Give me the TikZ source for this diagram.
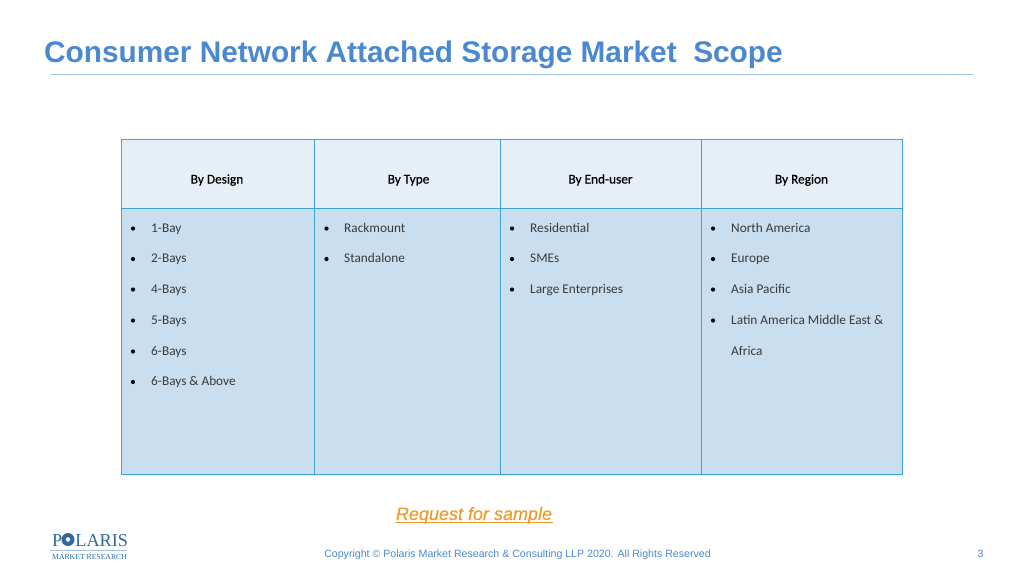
\documentclass[tikz,border=0pt]{standalone}
\usepackage{fontspec}
\setmainfont{Liberation Sans}
\newfontfamily\cellfont{Carlito}
\newfontfamily\headfont[FakeBold=0.5]{Carlito}
\newfontfamily\linkfont[ItalicFeatures={FakeBold=0.3}]{Liberation Sans}
\newfontfamily\logofont{Liberation Serif}
\usetikzlibrary{positioning}
\definecolor{titleblue}{HTML}{4A89CF}
\definecolor{rulecol}{HTML}{9CC3E2}
\definecolor{gridblue}{HTML}{3DA3D0}
\definecolor{headfill}{HTML}{E6EEF8}
\definecolor{bodyfill}{HTML}{C9DEEF}
\definecolor{linkorange}{HTML}{EE9A2C}
\definecolor{logoblue}{HTML}{2F6A9E}
\definecolor{txtgray}{HTML}{3A3A3A}
\tikzset{
  headcell/.style={draw=gridblue,fill=headfill,line width=1.3pt,anchor=north west,inner sep=0pt},
  bodycell/.style={draw=gridblue,fill=bodyfill,line width=1.3pt,anchor=north west,inner sep=0pt},
  headtext/.style={font=\headfont\fontsize{13.3}{15}\selectfont,text=black,anchor=base,inner sep=0pt},
  item/.style={font=\cellfont\fontsize{13.3}{15}\selectfont,text=txtgray,anchor=base west,inner sep=0pt},
  dot/.style={circle,fill=black,inner sep=0pt,minimum size=4.2pt}
}
\begin{document}
\begin{tikzpicture}[x=1pt,y=-1pt]
  \useasboundingbox (0,0) rectangle (1024,576);
  \node[anchor=base west,inner sep=0pt,text=titleblue,font=\bfseries\fontsize{29.8}{32}\selectfont] (title) at (44,62.5) {Consumer Network Attached Storage Market\ \ Scope};
  \coordinate (ruleL) at (51,74.5);
  \coordinate (ruleR) at (973,74.5);
  \draw[rulecol,line width=0.7pt] (ruleL)--(ruleR);
  % table cells
  \node[headcell,minimum width=193pt,minimum height=69pt] (h1) at (120.5,138.5) {};
  \node[headcell,minimum width=186pt,minimum height=69pt] (h2) at (313.5,138.5) {};
  \node[headcell,minimum width=201pt,minimum height=69pt] (h3) at (499.5,138.5) {};
  \node[headcell,minimum width=201pt,minimum height=69pt] (h4) at (700.5,138.5) {};
  \node[bodycell,minimum width=193pt,minimum height=266pt] (b1) at (120.5,207.5) {};
  \node[bodycell,minimum width=186pt,minimum height=266pt] (b2) at (313.5,207.5) {};
  \node[bodycell,minimum width=201pt,minimum height=266pt] (b3) at (499.5,207.5) {};
  \node[bodycell,minimum width=201pt,minimum height=266pt] (b4) at (700.5,207.5) {};
  \node[headtext] at (217,183.5) {By Design};
  \node[headtext] at (408.5,183.5) {By Type};
  \node[headtext] at (600.5,183.5) {By End-user};
  \node[headtext] at (801.5,183.5) {By Region};
  % lists
  \foreach \y/\txt in {232/1-Bay,262.5/2-Bays,293/4-Bays,324/5-Bays,355/6-Bays,385.5/6-Bays \& Above}{
    \node[dot] at (133,\y-3.5) {};
    \node[item] at (151,\y) {\txt};
  }
  \foreach \y/\txt in {232/Rackmount,262.5/Standalone}{
    \node[dot] at (326.5,\y-3.5) {};
    \node[item] at (344,\y) {\txt};
  }
  \foreach \y/\txt in {232/Residential,262.5/SMEs,293/Large Enterprises}{
    \node[dot] at (512,\y-3.5) {};
    \node[item] at (530,\y) {\txt};
  }
  \foreach \y/\txt in {232/North America,262.5/Europe,293/Asia Pacific,324/Latin America Middle East \&}{
    \node[dot] at (713,\y-3.5) {};
    \node[item] at (731,\y) {\txt};
  }
  \node[item] at (731,355) {Africa};
  % link and footer
  \node[inner sep=0pt,anchor=base,text=linkorange,font=\linkfont\itshape\fontsize{18}{20}\selectfont] (link) at (474,520) {Request for sample};
  \coordinate (linkL) at (395,522.5);
  \coordinate (linkR) at (553,522.5);
  \draw[linkorange,line width=1pt] (linkL)--(linkR);
  \node[inner sep=0pt,anchor=base,text=titleblue,font=\fontsize{10.6}{13}\selectfont] (copy) at (517.5,557) {Copyright © Polaris Market Research \& Consulting LLP 2020. All Rights Reserved};
  \node[inner sep=0pt,anchor=base,text=titleblue,font=\fontsize{10.6}{13}\selectfont] (page) at (980.5,557) {3};
  % logo
  \node[anchor=base west,inner sep=0pt,text=logoblue,font=\logofont\fontsize{18.2}{22}\selectfont] (logo) at (52,546) {P\phantom{O}LARIS};
  \node[circle,fill=logoblue,inner sep=0pt,minimum size=13pt] (logoO) at (68,539.5) {};
  \node[circle,fill=white,inner sep=0pt,minimum size=4.5pt] at (logoO) {};
  \coordinate (logoL) at (50,550);
  \coordinate (logoR) at (127,550);
  \draw[rulecol,line width=0.8pt] (logoL)--(logoR);
  \node[anchor=base west,inner sep=0pt,text=logoblue,font=\logofont\fontsize{7.7}{9}\selectfont] (logosub) at (52,559.5) {MARKET RESEARCH};
\end{tikzpicture}
\end{document}
